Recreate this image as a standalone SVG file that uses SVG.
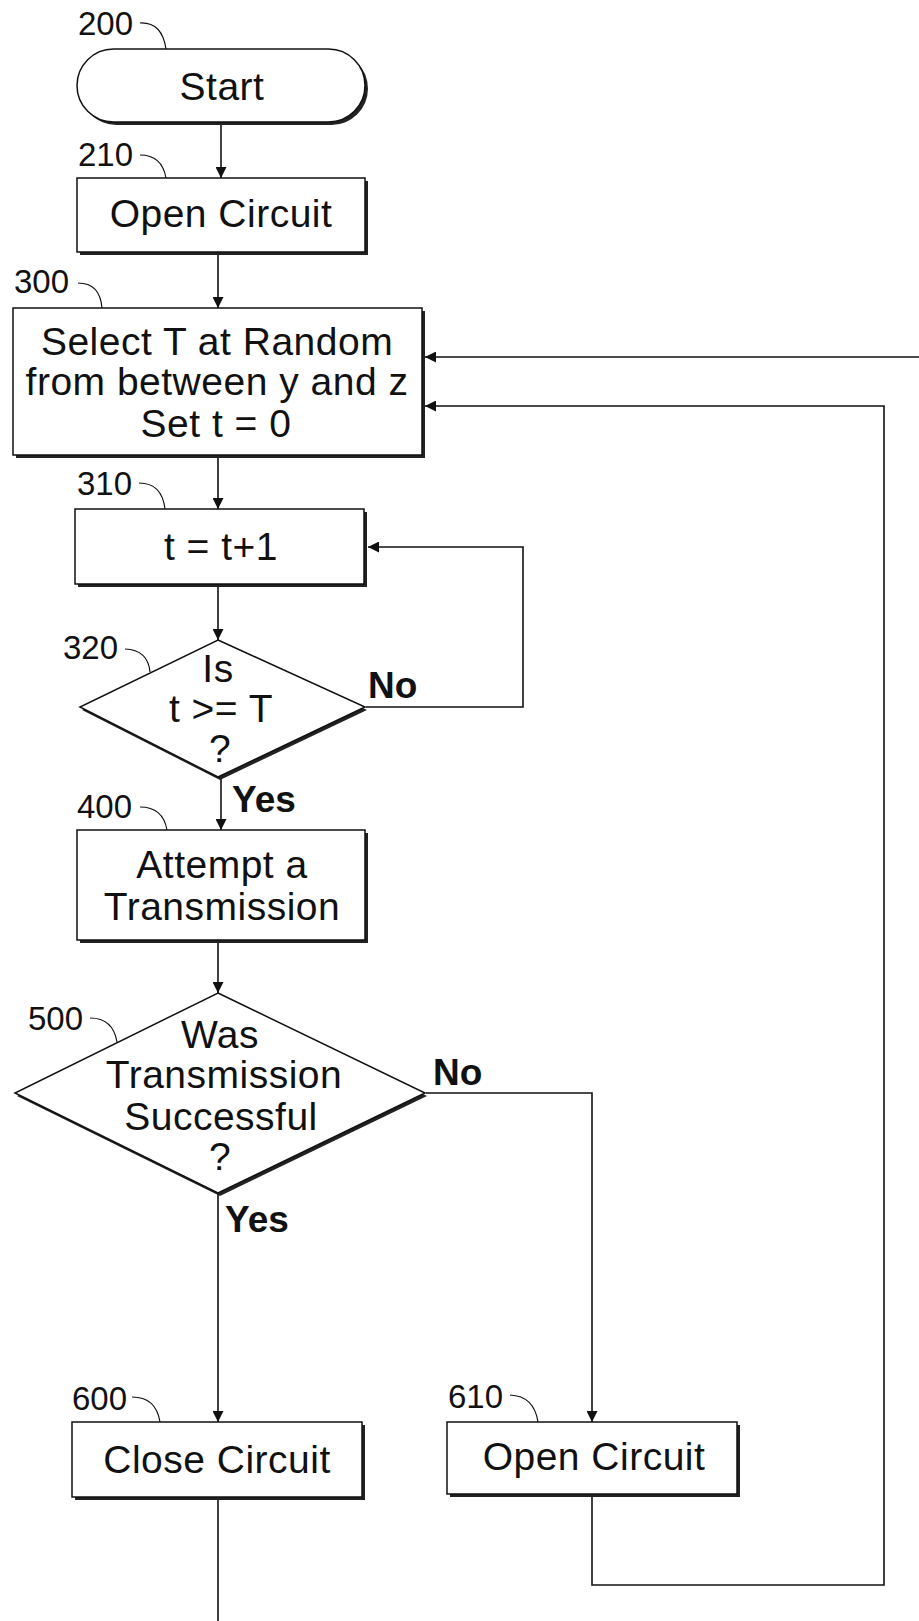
<svg xmlns="http://www.w3.org/2000/svg" width="919" height="1621" viewBox="0 0 919 1621">
<style>
  .box { fill: #fff; stroke: #111; stroke-width: 1.5; }
  .shadow { fill: #222; stroke: none; }
  .t { font-family: "Liberation Sans", Arial, sans-serif; font-size: 39px; fill: #111; text-anchor: middle; letter-spacing: 0.5px; }
  .ref { font-family: "Liberation Sans", Arial, sans-serif; font-size: 33px; fill: #111; }
  .lbl { font-family: "Liberation Sans", Arial, sans-serif; font-size: 37px; font-weight: bold; fill: #111; }
  .lead { fill: none; stroke: #111; stroke-width: 1.2; }
  .c { fill: none; stroke: #111; stroke-width: 1.6; }
</style>
<defs>
  <marker id="ah" viewBox="0 0 10 10" refX="10" refY="5" markerWidth="11" markerHeight="11" markerUnits="userSpaceOnUse" orient="auto">
    <path d="M0,0 L10,5 L0,10 z" fill="#111"/>
  </marker>
</defs>
<rect width="919" height="1621" fill="#fff"/>

<g id="connectors">
  <path class="c" d="M221,125 V178" marker-end="url(#ah)"/>
  <path class="c" d="M218,255 V308" marker-end="url(#ah)"/>
  <path class="c" d="M218,458 V509" marker-end="url(#ah)"/>
  <path class="c" d="M218,587 V640" marker-end="url(#ah)"/>
  <path class="c" d="M221,778 V830" marker-end="url(#ah)"/>
  <path class="c" d="M366,707 H523 V547 H368" marker-end="url(#ah)"/>
  <path class="c" d="M218,943 V993" marker-end="url(#ah)"/>
  <path class="c" d="M218,1194 V1422" marker-end="url(#ah)"/>
  <path class="c" d="M426,1093 H592 V1422" marker-end="url(#ah)"/>
  <path class="c" d="M592,1497 V1585 H884 V406 H425" marker-end="url(#ah)"/>
  <path class="c" d="M919,357 H425" marker-end="url(#ah)"/>
  <path class="c" d="M218,1500 V1621"/>
</g>

<g id="n200">
  <rect class="shadow" x="80" y="52" width="288" height="73" rx="36.5"/>
  <rect class="box" x="77" y="49" width="288" height="73" rx="36.5"/>
  <text class="t" x="222" y="100">Start</text>
  <text class="ref" x="78" y="35">200</text>
  <path class="lead" d="M140,23 Q162,22 166,49"/>
</g>

<g id="n210">
  <rect class="shadow" x="80" y="181" width="288" height="74"/>
  <rect class="box" x="77" y="178" width="288" height="74"/>
  <text class="t" x="221" y="227">Open Circuit</text>
  <text class="ref" x="78" y="166">210</text>
  <path class="lead" d="M140,155 Q162,155 166,178"/>
</g>

<g id="n300">
  <rect class="shadow" x="16" y="311" width="409" height="147"/>
  <rect class="box" x="13" y="308" width="409" height="147"/>
  <text class="t" x="217" y="355">Select T at Random</text>
  <text class="t" x="217" y="395">from between y and z</text>
  <text class="t" x="216" y="437">Set t = 0</text>
  <text class="ref" x="14" y="293">300</text>
  <path class="lead" d="M78,283 Q100,283 102,308"/>
</g>

<g id="n310">
  <rect class="shadow" x="78" y="512" width="289" height="75"/>
  <rect class="box" x="75" y="509" width="289" height="75"/>
  <text class="t" x="221" y="560">t = t+1</text>
  <text class="ref" x="77" y="495">310</text>
  <path class="lead" d="M139,483 Q162,483 165,509"/>
</g>

<g id="n320">
  <polygon class="shadow" points="220,643 367,710 220,780 82,710"/>
  <polygon class="box" points="218,640 365,707 218,777 80,707"/>
  <text class="t" x="218" y="682">Is</text>
  <text class="t" x="221" y="722">t &gt;= T</text>
  <text class="t" x="220" y="762">?</text>
  <text class="ref" x="63" y="659">320</text>
  <path class="lead" d="M125,649 Q148,650 150,672"/>
  <text class="lbl" x="368" y="698">No</text>
  <text class="lbl" x="232" y="812">Yes</text>
</g>

<g id="n400">
  <rect class="shadow" x="80" y="833" width="288" height="110"/>
  <rect class="box" x="77" y="830" width="288" height="110"/>
  <text class="t" x="222" y="878">Attempt a</text>
  <text class="t" x="222" y="920">Transmission</text>
  <text class="ref" x="77" y="818">400</text>
  <path class="lead" d="M140,807 Q163,807 167,830"/>
</g>

<g id="n500">
  <polygon class="shadow" points="220,996 427,1096 220,1196 17,1096"/>
  <polygon class="box" points="218,993 425,1093 218,1193 15,1093"/>
  <text class="t" x="220" y="1048">Was</text>
  <text class="t" x="224" y="1088">Transmission</text>
  <text class="t" x="221" y="1130">Successful</text>
  <text class="t" x="220" y="1170">?</text>
  <text class="ref" x="28" y="1030">500</text>
  <path class="lead" d="M90,1018 Q113,1018 117,1042"/>
  <text class="lbl" x="433" y="1085">No</text>
  <text class="lbl" x="225" y="1232">Yes</text>
</g>

<g id="n600">
  <rect class="shadow" x="75" y="1425" width="290" height="75"/>
  <rect class="box" x="72" y="1422" width="290" height="75"/>
  <text class="t" x="217" y="1473">Close Circuit</text>
  <text class="ref" x="72" y="1410">600</text>
  <path class="lead" d="M132,1397 Q156,1397 160,1422"/>
</g>

<g id="n610">
  <rect class="shadow" x="450" y="1425" width="290" height="72"/>
  <rect class="box" x="447" y="1422" width="290" height="72"/>
  <text class="t" x="594" y="1470">Open Circuit</text>
  <text class="ref" x="448" y="1408">610</text>
  <path class="lead" d="M510,1395 Q534,1396 538,1422"/>
</g>
</svg>
